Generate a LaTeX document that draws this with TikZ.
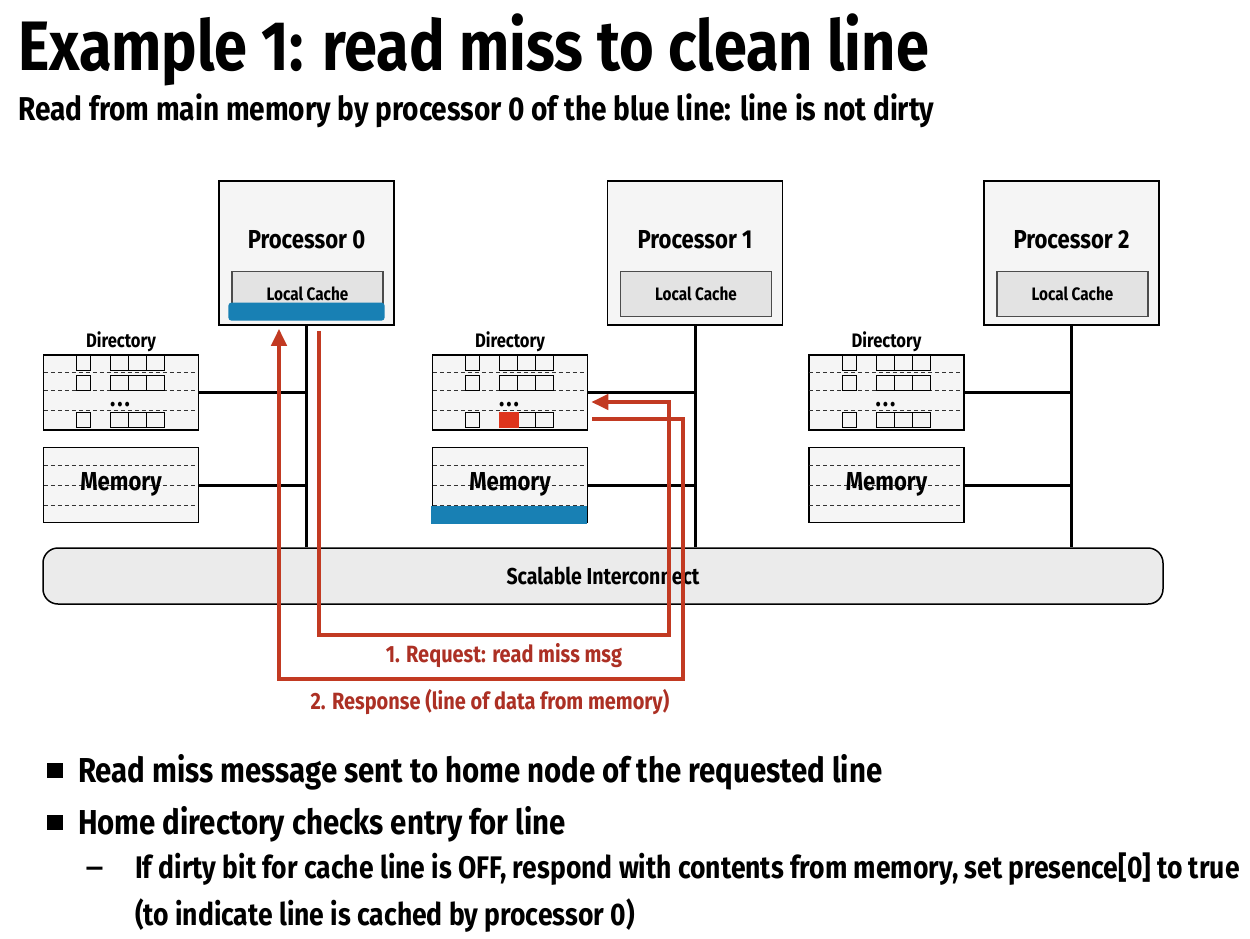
\documentclass[tikz,border=0pt]{standalone}
\usepackage{fontspec}
\setmainfont{Fira Sans}[FakeStretch=0.85]
\usetikzlibrary{arrows.meta,positioning}

\definecolor{msgred}{RGB}{194,58,34}
\definecolor{lblred}{RGB}{172,48,36}
\definecolor{lineblue}{RGB}{24,128,180}
\definecolor{bitred}{RGB}{222,52,28}
\newcommand{\fsz}[1]{\fontsize{#1}{#1}\selectfont\bfseries}

\tikzset{
  procbox/.style={draw, line width=1.5pt, fill=gray!8,
    minimum width=175pt, minimum height=144pt, inner sep=0pt},
  cachebox/.style={draw=gray!60!black, line width=1.2pt, fill=gray!22,
    minimum width=151pt, minimum height=45pt, inner sep=0pt},
  membox/.style={draw, line width=1.5pt, fill=gray!8,
    minimum width=155pt, minimum height=75pt, inner sep=0pt},
  bus/.style={line width=3pt},
  rows/.style={gray!40!black, line width=1.4pt, dash pattern=on 4pt off 3pt},
  cell/.style={draw, line width=1.4pt},
  msg/.style={msgred, line width=4pt},
  msgtip/.style={-{Triangle[length=17pt,width=15pt]}}
}

\begin{document}
\begin{tikzpicture}[x=1pt,y=-1pt]
\useasboundingbox (0,0) rectangle (1250,938);

% title
\node[anchor=base west, inner sep=0pt] (title) at (18,70)
  {\fsz{70}Example 1: read miss to clean line};
\node[anchor=base west, inner sep=0pt] (subtitle) at (18,120)
  {\fsz{33}Read from main memory by processor 0 of the blue line: line is not dirty};

% interconnect
\node[draw, line width=1.5pt, fill=gray!16, rounded corners=15pt,
  minimum width=1120pt, minimum height=56pt] (net) at (603,576)
  {\fsz{23}Scalable Interconnect};

% nodes
\foreach \i/\px/\dx in {0/306.5/121, 1/695/510, 2/1071.5/886.5}
{
    \node[procbox] (proc\i) at (\px,253) {};
    \node (plbl\i) at (\px,240) {\fsz{26}Processor \i};
    \node[cachebox] (cache\i) at (\px+1,294) {\fsz{18}Local Cache};

    % directory
    \node[membox] (dir\i) at (\dx,392.5) {};
    \node[above=1pt of dir\i, inner sep=1pt] (dlbl\i) {\fsz{19.5}Directory};
    \begin{scope}[shift={(dir\i.north west)}]
    \foreach \yy in {18,36,56}
    \draw[rows] (1,\yy) -- (154,\yy);
    \foreach \yy in {1.5,21,58}
    {
        \draw[cell] (34,\yy) rectangle ++(14,15);
        \foreach \cx in {68,86,104}
        \draw[cell] (\cx,\yy) rectangle ++(18,15);
    }
    \end{scope}
    \node[anchor=base, inner sep=0pt] (dots\i) at ([xshift=-1pt]dir\i.center |- 0,406)
      {\fsz{26}.\kern2pt.\kern2pt.};

    % memory
    \node[membox] (mem\i) at (\dx,485) {};
    \begin{scope}[shift={(mem\i.north west)}]
    \foreach \yy in {19,39,59}
    \draw[rows] (1,\yy) -- (154,\yy);
    \end{scope}
    \node (mlbl\i) at (\dx,484) {\fsz{26}Memory};

    % links to the bus
    \draw[bus] (proc\i.south) -- (proc\i.south |- net.north);
    \draw[bus] (dir\i.east) -- (dir\i.east -| proc\i.south);
    \draw[bus] (mem\i.east) -- (mem\i.east -| proc\i.south);
}

% blue line: cached copy and home memory
\fill[lineblue, rounded corners=3pt] ([xshift=-3pt,yshift=-3.5pt]cache0.south west)
  rectangle ([xshift=1pt,yshift=14.5pt]cache0.south east);
\fill[lineblue] ([xshift=-0.75pt,yshift=-0.75pt]mem1.south west)
  rectangle ([xshift=-1pt,yshift=17pt]mem1.south east);
% presence bit
\begin{scope}[shift={(dir1.north west)}]
\fill[bitred] (67,57.5) rectangle (87,73.5);
\end{scope}

% messages
\coordinate (reqsrc) at ([xshift=12.5pt,yshift=-5pt]proc0.south);
\coordinate (reqturn) at (669,635);
\coordinate (reqdst) at ([xshift=3pt,yshift=-9.5pt]dir1.east);
\draw[msg, msgtip] (reqsrc) |- (reqturn) |- (reqdst);

\coordinate (rspsrc) at ([xshift=4pt,yshift=-26.5pt]dir1.east);
\coordinate (rspturn) at (683,679);
\coordinate (rspdst) at ([xshift=-27.5pt,yshift=-3pt]proc0.south);
\draw[msg, msgtip] (rspsrc) -| (rspturn) -| (rspdst);

\node[text=lblred] (reqlbl) at (504,656) {\fsz{23.5}1. Request: read miss msg};
\node[text=lblred] (rsplbl) at (490,702) {\fsz{23.5}2. Response (line of data from memory)};

% bullets
\fill (47,763) rectangle (63,778);
\fill (47,815) rectangle (63,830);
\node[anchor=base west, inner sep=0pt] (pt1) at (78,782)
  {\fsz{34.6}Read miss message sent to home node of the requested line};
\node[anchor=base west, inner sep=0pt] (pt2) at (78,834)
  {\fsz{34.6}Home directory checks entry for line};
\node[anchor=base west, inner sep=0pt] (dash) at (86,876) {\fsz{25}—};
\node[anchor=base west, inner sep=0pt] (sub1) at (135,878)
  {\fsz{31.2}If dirty bit for cache line is OFF, respond with contents from memory, set presence[0] to true};
\node[anchor=base west, inner sep=0pt] (sub2) at (135,925)
  {\fsz{31.2}(to indicate line is cached by processor 0)};
\end{tikzpicture}
\end{document}
